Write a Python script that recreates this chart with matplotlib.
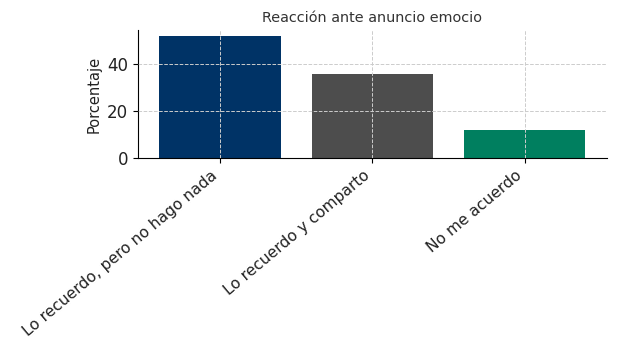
import matplotlib
matplotlib.use("Agg")
import matplotlib.pyplot as plt

categories = ["Lo recuerdo, pero no hago nada", "Lo recuerdo y comparto", "No me acuerdo"]
values = [52, 36, 12]
colors = ["#003366", "#4d4d4d", "#007f5f"]

fig = plt.figure(figsize=(6.23, 3.52), dpi=100)
ax = fig.add_axes([0.2215, 0.551, 0.7525, 0.364])
ax.bar(categories, values, color=colors, width=0.8)
ax.set_title("Reacción ante anuncio emocio", fontsize=10.4, color="#333333")
ax.set_ylabel("Porcentaje", fontsize=10.5, color="#222222")
ax.tick_params(axis="y", labelsize=12, labelcolor="#222222")
ax.tick_params(axis="x", labelsize=11.2, labelcolor="#222222")
plt.setp(ax.get_xticklabels(), rotation=40, ha="right")
ax.grid(True, linestyle="--", color="#cccccc", linewidth=0.7)
ax.set_axisbelow(False)
ax.spines["top"].set_visible(False)
ax.spines["right"].set_visible(False)
fig.savefig("out.png", dpi=100)
